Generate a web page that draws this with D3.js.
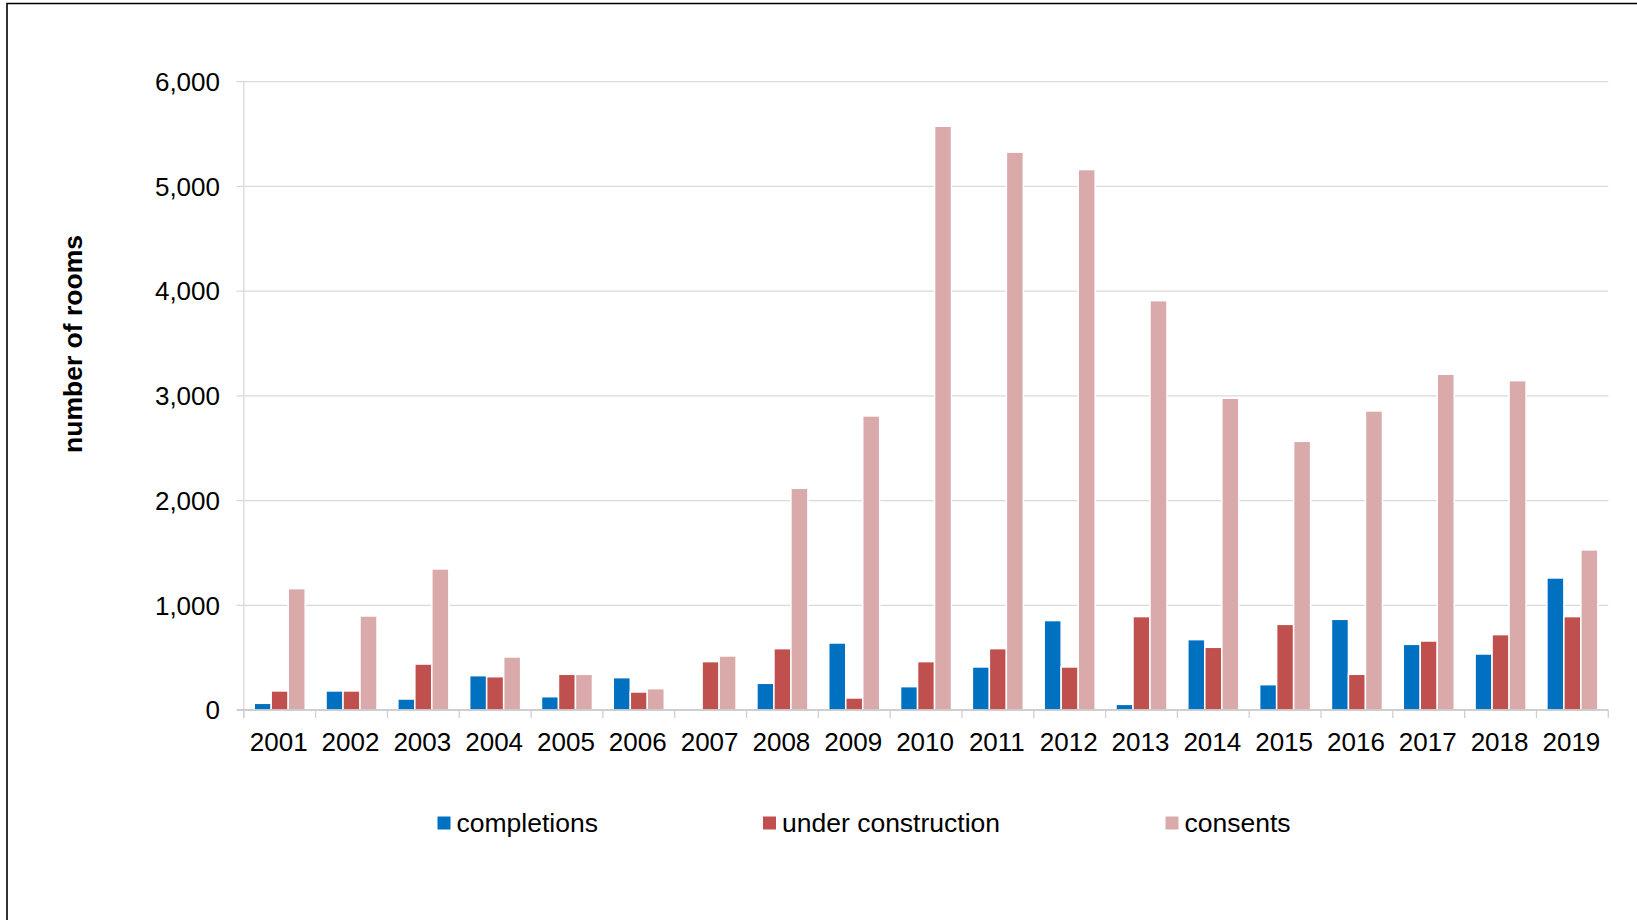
<!DOCTYPE html>
<html>
<head>
<meta charset="utf-8">
<script src="https://cdn.jsdelivr.net/npm/d3@7"></script>
<style>
  html, body { margin: 0; padding: 0; background: #fff; }
  svg { display: block; font-family: "Liberation Sans", Arial, sans-serif; }
</style>
</head>
<body>
<svg id="chart" width="1637" height="920"></svg>
<script>
const years = ["2001","2002","2003","2004","2005","2006","2007","2008","2009","2010","2011","2012","2013","2014","2015","2016","2017","2018","2019"];
const completions = [64,182,105,328,127,309,0,255,640,223,411,854,54,672,242,866,627,535,1261];
const underConstruction = [182,182,439,318,341,172,462,586,115,462,586,411,892,599,818,341,659,720,892];
const consents = [1159,898,1347,506,341,204,516,2117,2808,5575,5327,5161,3909,2977,2566,2856,3206,3145,1529];
const seriesNames = ["completions","under construction","consents"];
const seriesColors = ["#0070C0","#C0504D","#DAAAAA"];
const yTicks = [0,1000,2000,3000,4000,5000,6000];

(function () {
const svg = d3.select("#chart");
svg.append("rect").attr("width",1637).attr("height",920).attr("fill","#fff");

const pLeft = 243.8, pRight = 1608.3, pTop = 81.7, pBottom = 710;

const x0 = d3.scaleBand().domain(years).range([pLeft, pRight]).paddingInner(0.29).paddingOuter(0.145);
const x1 = d3.scaleBand().domain(seriesNames).range([0, x0.bandwidth()]).padding(0);
const y = d3.scaleLinear().domain([0, 6000]).range([pBottom, pTop]);

// gridlines
svg.append("g").selectAll("line").data(yTicks.filter(d => d > 0)).join("line")
  .attr("x1", pLeft - 7.3).attr("x2", pRight)
  .attr("y1", d => y(d)).attr("y2", d => y(d))
  .attr("stroke", "#d9d9d9").attr("stroke-width", 1.3);

// y axis line
svg.append("line").attr("x1", pLeft).attr("x2", pLeft).attr("y1", pTop).attr("y2", pBottom + 8)
  .attr("stroke", "#d9d9d9").attr("stroke-width", 1.3);

// y tick labels
svg.append("g").selectAll("text").data(yTicks).join("text")
  .attr("x", 220).attr("y", d => y(d)).attr("dy", "0.36em")
  .attr("text-anchor", "end").attr("font-size", 26).attr("fill", "#000")
  .text(d => d3.format(",")(d));

// bars
const table = years.map((yr, i) => ({ year: yr, values: [completions[i], underConstruction[i], consents[i]] }));
const groups = svg.append("g").selectAll("g").data(table).join("g")
  .attr("transform", d => `translate(${x0(d.year)},0)`);
groups.selectAll("rect").data(d => d.values.map((v, k) => ({ key: seriesNames[k], value: v, color: seriesColors[k] })).filter(e => e.value > 0))
  .join("rect")
  .attr("x", d => x1(d.key)).attr("width", x1.bandwidth())
  .attr("y", d => y(d.value)).attr("height", d => y(0) - y(d.value))
  .attr("fill", d => d.color).attr("stroke", "#fff").attr("stroke-width", 1.5);

// x axis baseline
svg.append("line").attr("x1", pLeft - 7.3).attr("x2", pRight).attr("y1", pBottom).attr("y2", pBottom)
  .attr("stroke", "#bfbfbf").attr("stroke-width", 1.5);

// category boundary ticks
const step = x0.step();
const boundaries = years.map((yr, i) => i).concat([years.length]);
svg.append("g").selectAll("line").data(boundaries).join("line")
  .attr("x1", i => pLeft + i * step).attr("x2", i => pLeft + i * step)
  .attr("y1", pBottom).attr("y2", pBottom + 8)
  .attr("stroke", "#d0d0d0").attr("stroke-width", 1.3);

// x labels
svg.append("g").selectAll("text").data(years).join("text")
  .attr("x", d => x0(d) + x0.bandwidth() / 2 - 1).attr("y", 751)
  .attr("text-anchor", "middle").attr("font-size", 26).attr("fill", "#000")
  .text(d => d);

// y axis title
svg.append("text")
  .attr("transform", "translate(82,344) rotate(-90)")
  .attr("text-anchor", "middle").attr("font-size", 26.5).attr("font-weight", "bold").attr("fill", "#000")
  .text("number of rooms");

// legend
const legendX = [437.5, 763, 1165.5];
const lg = svg.append("g").selectAll("g").data(seriesNames).join("g")
  .attr("transform", (d, i) => `translate(${legendX[i]},0)`);
lg.append("rect").attr("x", 0).attr("y", 816.5).attr("width", 13).attr("height", 13)
  .attr("fill", (d, i) => seriesColors[i]);
lg.append("text").attr("x", 19).attr("y", 832).attr("font-size", 26.5).attr("fill", "#000").text(d => d);

// frame (left and top edges)
svg.append("path").attr("d", "M7,920 L7,3.5 L1637,3.5")
  .attr("fill", "none").attr("stroke", "#000").attr("stroke-width", 1.6);
})();
</script>
</body>
</html>
